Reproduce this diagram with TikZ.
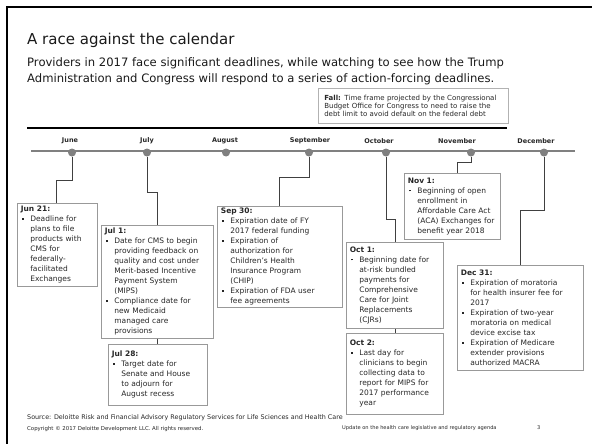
\documentclass[tikz,border=0pt]{standalone}
\usepackage{fontspec}
\setmainfont{DejaVu Sans}
\usepackage{xcolor}
\usetikzlibrary{positioning}

\newcommand{\bul}{\makebox[9.5pt][l]{\hspace{1.2pt}\rule[1.9pt]{1.7pt}{1.7pt}}}
\newcommand{\ind}{\hspace*{9.5pt}}

\begin{document}
\begin{tikzpicture}[x=1pt, y=-1pt,
    month/.style={font=\fontsize{6.5}{7}\selectfont\bfseries, text=black!85, inner sep=0pt},
    dot/.style={circle, fill=black!50, minimum size=8pt, inner sep=0pt},
    event/.style={draw=black!40, line width=0.7pt, anchor=north west, align=left,
        inner xsep=3.5pt, inner ysep=2pt, font=\fontsize{7.5}{10}\selectfont, text=black!85},
    fallbox/.style={draw=black!30, line width=0.6pt, anchor=north west, align=left,
        inner xsep=6pt, inner ysep=1pt, font=\fontsize{7}{7.7}\selectfont, text=black!85},
    link/.style={draw=black!75, line width=0.7pt},
    foot/.style={anchor=base west, inner sep=0pt, text=black!85}]

\useasboundingbox (0,0) rectangle (592,444);

% frame
\draw[line width=2.5pt] (7,444) -- (7,7) -- (592,7);

% heading
\node[anchor=base west, inner sep=0pt, font=\fontsize{15}{18}\selectfont, text=black!90] (title) at (27,45) {A race against the calendar};
\node[anchor=north west, inner sep=0pt, align=left, font=\fontsize{11.6}{16}\selectfont, text=black!90] (sub) at (27,57.9)
    {Providers in 2017 face significant deadlines, while watching to see how the Trump\\
     Administration and Congress will respond to a series of action-forcing deadlines.};

\node[fallbox, text width=178pt, minimum height=35pt] (fall) at (318,88)
    {\textbf{Fall:} Time frame projected by the Congressional\\
     Budget Office for Congress to need to raise the\\
     debt limit to avoid default on the federal debt};

% rules
\coordinate (r0) at (27,128);
\coordinate (r1) at (507,128);
\draw[line width=2.6pt] (r0) -- (r1);
\coordinate (t0) at (31,151);
\coordinate (t1) at (575,151);
\draw[line width=1.3pt, black!50] (t0) -- (t1);

% months
\node[dot] (jun) at (72,152.5) {};
\node[dot] (jul) at (147,152.5) {};
\node[dot] (aug) at (226,152.5) {};
\node[dot] (sep) at (309,152.5) {};
\node[dot] (oct) at (386,152.5) {};
\node[dot] (nov) at (471,152.5) {};
\node[dot] (dec) at (544,152.5) {};

\node[month] (junlbl) at (70,141) {June};
\node[month] (jullbl) at (147,141) {July};
\node[month] (auglbl) at (225,141) {August};
\node[month] (seplbl) at (310,141) {September};
\node[month] (octlbl) at (379,141) {October};
\node[month] (novlbl) at (457,141) {November};
\node[month] (declbl) at (536,141) {December};

% events
\node[event, text width=73pt, minimum height=83pt] (jun21) at (17,203)
    {\textbf{Jun 21:}\\
     \bul Deadline for\\ \ind plans to file\\ \ind products with\\ \ind CMS for\\
     \ind federally-\\ \ind facilitated\\ \ind Exchanges};

\node[event, text width=105pt, minimum height=113pt] (jul1) at (101,225)
    {\textbf{Jul 1:}\\
     \bul Date for CMS to begin\\ \ind providing feedback on\\ \ind quality and cost under\\
     \ind Merit-based Incentive\\ \ind Payment System\\ \ind (MIPS)\\
     \bul Compliance date for\\ \ind new Medicaid\\ \ind managed care\\ \ind provisions};

\node[event, text width=92pt, minimum height=61pt] (jul28) [below right=5pt and 7pt of jul1.south west]
    {\textbf{Jul 28:}\\
     \bul Target date for\\ \ind Senate and House\\ \ind to adjourn for\\ \ind August recess};

\node[event, text width=118pt, minimum height=100pt] (sep30) at (217,206)
    {\textbf{Sep 30:}\\
     \bul Expiration date of FY\\ \ind 2017 federal funding\\
     \bul Expiration of\\ \ind authorization for\\ \ind Children's Health\\
     \ind Insurance Program\\ \ind (CHIP)\\
     \bul Expiration of FDA user\\ \ind fee agreements};

\node[event, text width=90pt, minimum height=86pt] (oct1) at (346,242)
    {\textbf{Oct 1:}\\
     \bul Beginning date for\\ \ind at-risk bundled\\ \ind payments for\\
     \ind Comprehensive\\ \ind Care for Joint\\ \ind Replacements\\ \ind (CJRs)};

\node[event, text width=90pt, minimum height=81pt] (oct2) [below right=4pt and 0pt of oct1.south west]
    {\textbf{Oct 2:}\\
     \bul Last day for\\ \ind clinicians to begin\\ \ind collecting data to\\
     \ind report for MIPS for\\ \ind 2017 performance\\ \ind year};

\node[event, text width=89pt, minimum height=66pt] (nov1) at (404,173)
    {\textbf{Nov 1:}\\
     \bul Beginning of open\\ \ind enrollment in\\ \ind Affordable Care Act\\
     \ind (ACA) Exchanges for\\ \ind benefit year 2018};

\node[event, text width=119pt, minimum height=105pt] (dec31) at (457,265)
    {\textbf{Dec 31:}\\
     \bul Expiration of moratoria\\ \ind for health insurer fee for\\ \ind 2017\\
     \bul Expiration of two-year\\ \ind moratoria on medical\\ \ind device excise tax\\
     \bul Expiration of Medicare\\ \ind extender provisions\\ \ind authorized MACRA};

% connectors
\draw[link] (jun) -- ++(0,28) -| ([xshift=39pt]jun21.north west);
\draw[link] (jul) -- ++(0,40) -| ([xshift=56pt]jul1.north west);
\draw[link] ([xshift=56pt]jul1.south west) -- ([xshift=49pt]jul28.north west);
\draw[link] (sep) -- ++(0,25) -| ([xshift=62pt]sep30.north west);
\draw[link] (oct) -- ++(0,67) -| ([xshift=49pt]oct1.north west);
\draw[link] ([xshift=49pt]oct1.south west) -- ([xshift=49pt]oct2.north west);
\draw[link] (nov) -- ++(0,10) -| ([xshift=53pt]nov1.north west);
\draw[link] (dec) -- ++(0,58) -| ([xshift=63pt]dec31.north west);

% footer
\node[foot, font=\fontsize{6.4}{7}\selectfont] (src) at (27,419.5)
    {Source: Deloitte Risk and Financial Advisory Regulatory Services for Life Sciences and Health Care};
\node[foot, font=\fontsize{5.4}{6}\selectfont] (copy) at (27,430.5)
    {Copyright © 2017 Deloitte Development LLC. All rights reserved.};
\node[foot, font=\fontsize{5.1}{6}\selectfont] (agenda) at (342,429.5)
    {Update on the health care legislative and regulatory agenda};
\node[foot, font=\fontsize{5.1}{6}\selectfont] (page) at (537,429.5) {3};

\end{tikzpicture}
\end{document}
